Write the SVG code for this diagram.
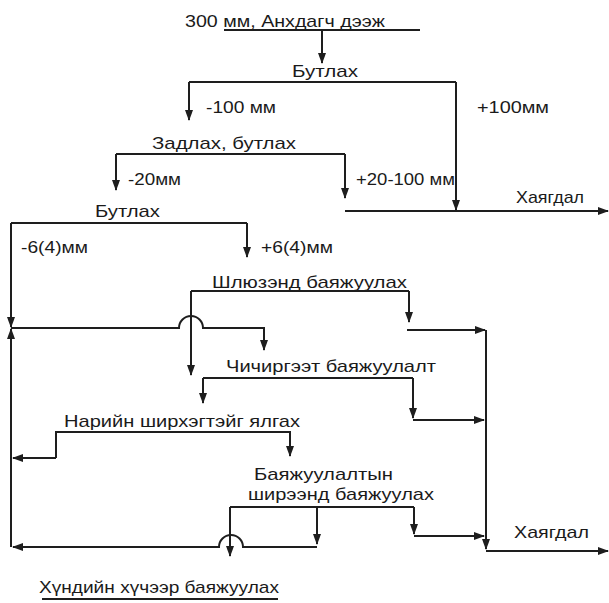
<svg xmlns="http://www.w3.org/2000/svg" width="609" height="603" viewBox="0 0 609 603">
<style>
text{font-family:"Liberation Sans",Arial,sans-serif;font-size:17px;fill:#1a1a1a}
.c path,.c line{fill:none;stroke:#1e1e1e;stroke-width:2}
.ar{marker-end:url(#a)}
</style>
<defs>
<marker id="a" markerWidth="11" markerHeight="8" refX="10" refY="4" orient="auto" markerUnits="userSpaceOnUse"><path d="M0,0 L11,4 L0,8 z" fill="#1e1e1e"/></marker>
</defs>
<rect width="609" height="603" fill="#fff"/>
<g id="n-sample"><text x="185" y="27" textLength="200" lengthAdjust="spacingAndGlyphs">300 мм, Анхдагч дээж</text></g>
<g id="n-crush1"><text x="292" y="77" textLength="66" lengthAdjust="spacingAndGlyphs">Бутлах</text></g>
<g id="l-m100"><text x="206" y="113" textLength="70" lengthAdjust="spacingAndGlyphs">-100 мм</text></g>
<g id="l-p100"><text x="477" y="113" textLength="72" lengthAdjust="spacingAndGlyphs">+100мм</text></g>
<g id="n-split"><text x="152" y="149" textLength="144" lengthAdjust="spacingAndGlyphs">Задлах, бутлах</text></g>
<g id="l-m20"><text x="128" y="185" textLength="53" lengthAdjust="spacingAndGlyphs">-20мм</text></g>
<g id="l-p20"><text x="356" y="185" textLength="99" lengthAdjust="spacingAndGlyphs">+20-100 мм</text></g>
<g id="n-waste1"><text x="516" y="203" textLength="68" lengthAdjust="spacingAndGlyphs">Хаягдал</text></g>
<g id="n-crush2"><text x="95" y="217" textLength="65" lengthAdjust="spacingAndGlyphs">Бутлах</text></g>
<g id="l-m6"><text x="21" y="253" textLength="67" lengthAdjust="spacingAndGlyphs">-6(4)мм</text></g>
<g id="l-p6"><text x="261" y="253" textLength="72" lengthAdjust="spacingAndGlyphs">+6(4)мм</text></g>
<g id="n-sluice"><text x="212" y="288" textLength="195" lengthAdjust="spacingAndGlyphs">Шлюзэнд баяжуулах</text></g>
<g id="n-jig"><text x="226" y="372" textLength="210" lengthAdjust="spacingAndGlyphs">Чичиргээт баяжуулалт</text></g>
<g id="n-fine"><text x="64" y="427" textLength="236" lengthAdjust="spacingAndGlyphs">Нарийн ширхэгтэйг ялгах</text></g>
<g id="n-table"><text x="254" y="480" textLength="139" lengthAdjust="spacingAndGlyphs">Баяжуулалтын</text><text x="248" y="500" textLength="186" lengthAdjust="spacingAndGlyphs">ширээнд баяжуулах</text></g>
<g id="n-waste2"><text x="514" y="538" textLength="75" lengthAdjust="spacingAndGlyphs">Хаягдал</text></g>
<g id="n-gravity"><text x="39" y="593" textLength="240" lengthAdjust="spacingAndGlyphs">Хүндийн хүчээр баяжуулах</text></g>
<g id="connectors" class="c">
<path d="M224,30 H420"/>
<path class="ar" d="M322,30 V63"/>
<path d="M189,82 H456"/>
<path class="ar" d="M189,82 V120"/>
<path class="ar" d="M456,82 V210"/>
<path d="M116,154 H345"/>
<path class="ar" d="M116,154 V190"/>
<path class="ar" d="M345,154 V198"/>
<path class="ar" d="M345,211 H608"/>
<path d="M11,223 H247"/>
<path class="ar" d="M247,223 V257"/>
<path class="ar" d="M11,223 V327"/>
<path class="ar" d="M11,547 V329"/>
<path d="M191,291 H409"/>
<path class="ar" d="M191,291 V375"/>
<path class="ar" d="M409,291 V322"/>
<path class="ar" d="M11,328 H179 A12,12 0 0 1 203,328 H264 V350"/>
<path class="ar" d="M407,330 H485"/>
<path class="ar" d="M486,330 V549"/>
<path class="ar" d="M486,551 H608"/>
<path d="M203,378 H413"/>
<path class="ar" d="M203,378 V403"/>
<path class="ar" d="M413,378 V418"/>
<path class="ar" d="M413,420 H484"/>
<path class="ar" d="M56,458 V432 H290 V456"/>
<path class="ar" d="M56,458 H13"/>
<path d="M230,507 H414"/>
<path class="ar" d="M230,507 V556"/>
<path class="ar" d="M317,507 V544"/>
<path class="ar" d="M414,507 V534"/>
<path class="ar" d="M414,536 H484"/>
<path class="ar" d="M317,547 H243 A12,12 0 0 0 219,547 H13"/>
<path d="M42,599 H278"/>
</g>
</svg>
